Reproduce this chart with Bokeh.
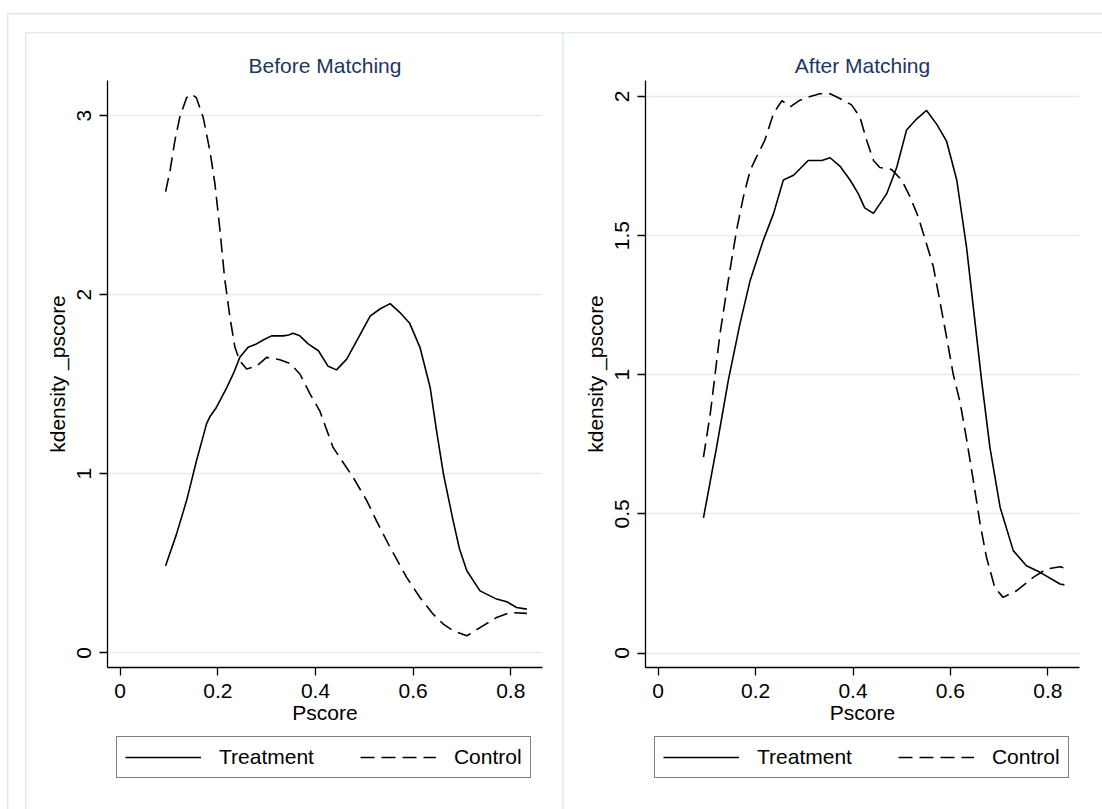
import numpy as np
from bokeh.plotting import figure
from bokeh.models import Range1d, FixedTicker, Legend, LegendItem
from bokeh.layouts import row, column
from bokeh.embed import file_html
from bokeh.resources import INLINE

# ---------------- data ----------------
titles = ["Before Matching", "After Matching"]
x_label = "Pscore"
y_label = "kdensity _pscore"
series_names = ["Treatment", "Control"]
x_ticks = [0, 0.2, 0.4, 0.6, 0.8]
y_ticks_before = [0, 1, 2, 3]
y_ticks_after = [0, 0.5, 1, 1.5, 2]

before_treat_x = [0.093, 0.115, 0.136, 0.156, 0.177, 0.184, 0.197, 0.218, 0.232, 0.245,
                  0.262, 0.279, 0.295, 0.310, 0.334, 0.345, 0.354, 0.368, 0.385, 0.406,
                  0.426, 0.443, 0.464, 0.488, 0.512, 0.532, 0.553, 0.573, 0.593, 0.614,
                  0.635, 0.648, 0.662, 0.682, 0.695, 0.710, 0.737, 0.771, 0.792, 0.812, 0.833]
before_treat_y = [0.486, 0.66, 0.85, 1.07, 1.28, 1.32, 1.37, 1.48, 1.56, 1.65,
                  1.706, 1.725, 1.75, 1.77, 1.77, 1.775, 1.784, 1.77, 1.725, 1.687,
                  1.60, 1.58, 1.64, 1.76, 1.88, 1.92, 1.95, 1.90, 1.84, 1.706,
                  1.48, 1.24, 1.0, 0.737, 0.58, 0.458, 0.346, 0.30, 0.285, 0.253, 0.244]

before_ctrl_x = [0.093, 0.102, 0.112, 0.122, 0.136, 0.146, 0.156, 0.170, 0.184, 0.194,
                 0.204, 0.214, 0.225, 0.235, 0.245, 0.259, 0.279, 0.300, 0.327, 0.348,
                 0.368, 0.389, 0.409, 0.436, 0.477, 0.505, 0.525, 0.553, 0.587, 0.614,
                 0.641, 0.662, 0.682, 0.710, 0.737, 0.771, 0.799, 0.833]
before_ctrl_y = [2.575, 2.69, 2.86, 2.99, 3.10, 3.12, 3.10, 2.99, 2.80, 2.62,
                 2.37, 2.09, 1.87, 1.706, 1.63, 1.585, 1.60, 1.65, 1.637, 1.616,
                 1.557, 1.445, 1.35, 1.147, 0.98, 0.85, 0.737, 0.588, 0.42, 0.309,
                 0.216, 0.16, 0.123, 0.095, 0.141, 0.197, 0.225, 0.22]

after_treat_x = [0.093, 0.120, 0.144, 0.168, 0.189, 0.216, 0.237, 0.257, 0.278, 0.308,
                 0.336, 0.353, 0.373, 0.394, 0.411, 0.424, 0.442, 0.469, 0.490, 0.510,
                 0.531, 0.551, 0.572, 0.592, 0.613, 0.633, 0.664, 0.681, 0.702, 0.729,
                 0.756, 0.784, 0.825, 0.834]
after_treat_y = [0.486, 0.74, 0.98, 1.184, 1.34, 1.484, 1.58, 1.70, 1.717, 1.77,
                 1.77, 1.78, 1.75, 1.70, 1.65, 1.60, 1.58, 1.65, 1.747, 1.88,
                 1.92, 1.95, 1.90, 1.84, 1.70, 1.46, 0.98, 0.74, 0.524, 0.368,
                 0.314, 0.29, 0.248, 0.245]

after_ctrl_x = [0.093, 0.107, 0.127, 0.144, 0.161, 0.175, 0.189, 0.202, 0.219, 0.237,
                0.254, 0.271, 0.291, 0.312, 0.332, 0.353, 0.373, 0.397, 0.414, 0.428,
                0.442, 0.455, 0.479, 0.500, 0.517, 0.534, 0.551, 0.565, 0.578, 0.592,
                0.606, 0.620, 0.633, 0.647, 0.661, 0.674, 0.691, 0.708, 0.736, 0.770,
                0.797, 0.825, 0.834]
after_ctrl_y = [0.704, 0.86, 1.148, 1.34, 1.52, 1.64, 1.735, 1.783, 1.843, 1.94,
                1.985, 1.963, 1.987, 2.0, 2.01, 2.01, 1.993, 1.97, 1.927, 1.843,
                1.77, 1.745, 1.738, 1.70, 1.64, 1.567, 1.47, 1.388, 1.268, 1.136,
                1.0, 0.90, 0.77, 0.62, 0.464, 0.344, 0.236, 0.20, 0.224, 0.272,
                0.302, 0.31, 0.305]

# ---------------- styling ----------------
FONT = "Liberation Sans"
GRID = "#e1ecef"
BORDER = "#dfeaee"
TITLE_COLOR = "#1b3763"
DASH = "14 7"
H = 809
PLOT_H = 735
LEG_H = H - PLOT_H


def hline(x, y, w, c=BORDER):
    return f"linear-gradient({c},{c}) {x}px {y}px / {w}px 1.5px no-repeat"


def vline(x, y, h, c=BORDER):
    return f"linear-gradient({c},{c}) {x}px {y}px / 1.5px {h}px no-repeat"


def style_line(r, dashed):
    r.glyph.line_color = "black"
    r.glyph.line_width = 1.6
    if dashed:
        r.glyph.line_dash = DASH


def make_panel(title, ticks_y, yr, tx, ty, cx, cy, width, mb_left, mb_right):
    p = figure(width=width, height=PLOT_H, output_backend="svg", toolbar_location=None,
               x_range=Range1d(-0.026, 0.865), y_range=Range1d(*yr),
               min_border_left=mb_left, min_border_right=mb_right,
               min_border_top=80, min_border_bottom=PLOT_H - 667,
               background_fill_color="white", border_fill_alpha=0)
    p.outline_line_color = None
    p.title.text = title
    p.title.align = "center"
    p.title.text_font = FONT
    p.title.text_font_size = "21px"
    p.title.text_font_style = "normal"
    p.title.text_color = TITLE_COLOR
    p.title.standoff = 7

    p.xaxis.ticker = FixedTicker(ticks=x_ticks)
    p.xaxis.major_label_overrides = {t: f"{t:g}" for t in x_ticks}
    p.yaxis.ticker = FixedTicker(ticks=ticks_y)
    p.yaxis.major_label_overrides = {t: f"{t:g}" for t in ticks_y}
    p.yaxis.major_label_orientation = "vertical"
    p.xaxis.axis_label = x_label
    p.yaxis.axis_label = y_label
    for ax in (p.xaxis, p.yaxis):
        ax.axis_line_color = "black"
        ax.axis_line_width = 1.3
        ax.major_tick_line_color = "black"
        ax.major_tick_line_width = 1.3
        ax.major_tick_out = 8
        ax.major_tick_in = 0
        ax.minor_tick_line_color = None
        ax.major_label_text_font = FONT
        ax.major_label_text_font_size = "21px"
        ax.major_label_text_color = "black"
        ax.axis_label_text_font = FONT
        ax.axis_label_text_font_size = "21px"
        ax.axis_label_text_font_style = "normal"
        ax.axis_label_text_color = "black"
    p.xaxis.major_label_standoff = 8
    p.xaxis.axis_label_standoff = 0
    p.yaxis.major_label_standoff = 8
    p.yaxis.axis_label_standoff = 6

    p.xgrid.grid_line_color = None
    p.ygrid.grid_line_color = GRID
    p.ygrid.grid_line_width = 1.5

    style_line(p.line(tx, ty), False)
    style_line(p.line(cx, cy), True)

    # legend strip underneath the plot (same series styles; its own keys hold no visible data)
    lg = figure(width=width, height=LEG_H, output_backend="svg", toolbar_location=None,
                x_range=Range1d(0, 1), y_range=Range1d(0, 1),
                x_axis_type=None, y_axis_type=None,
                min_border=0, background_fill_alpha=0, border_fill_alpha=0)
    lg.outline_line_color = None
    lg.xgrid.visible = False
    lg.ygrid.visible = False
    empty = np.array([np.nan])
    k1 = lg.line(empty, empty)
    k2 = lg.line(empty, empty)
    style_line(k1, False)
    style_line(k2, True)
    legend = Legend(items=[LegendItem(label=series_names[0], renderers=[k1]),
                           LegendItem(label=series_names[1], renderers=[k2])],
                    orientation="horizontal", location=(9, 31))
    legend.glyph_width = 76
    legend.glyph_height = 20
    legend.label_standoff = 18
    legend.spacing = 46
    legend.padding = 8
    legend.margin = 0
    legend.label_text_font = FONT
    legend.label_text_font_size = "21px"
    legend.label_text_color = "black"
    legend.label_height = 22
    legend.border_line_color = "black"
    legend.border_line_width = 1.3
    legend.background_fill_color = "white"
    legend.background_fill_alpha = 1
    lg.add_layout(legend, "center")
    return column(p, lg, spacing=0)


bg = ", ".join([
    vline(7, 13, H - 13), hline(7, 13, 1102 - 7),          # outer frame (left, top)
    vline(25, 32, H - 32), hline(25, 32, 1102 - 25),       # panel boxes (left, top)
    vline(562, 32, H - 32),                                 # panel divider
    "white",
])

c1 = make_panel(titles[0], y_ticks_before, (-0.082, 3.196),
                before_treat_x, before_treat_y, before_ctrl_x, before_ctrl_y,
                563, 107, 21)
c2 = make_panel(titles[1], y_ticks_after, (-0.052, 2.0576),
                after_treat_x, after_treat_y, after_ctrl_x, after_ctrl_y,
                539, 82, 23)

layout = row(c1, c2, spacing=0, styles={"background": bg})
open("out.html", "w").write(file_html(layout, INLINE))
